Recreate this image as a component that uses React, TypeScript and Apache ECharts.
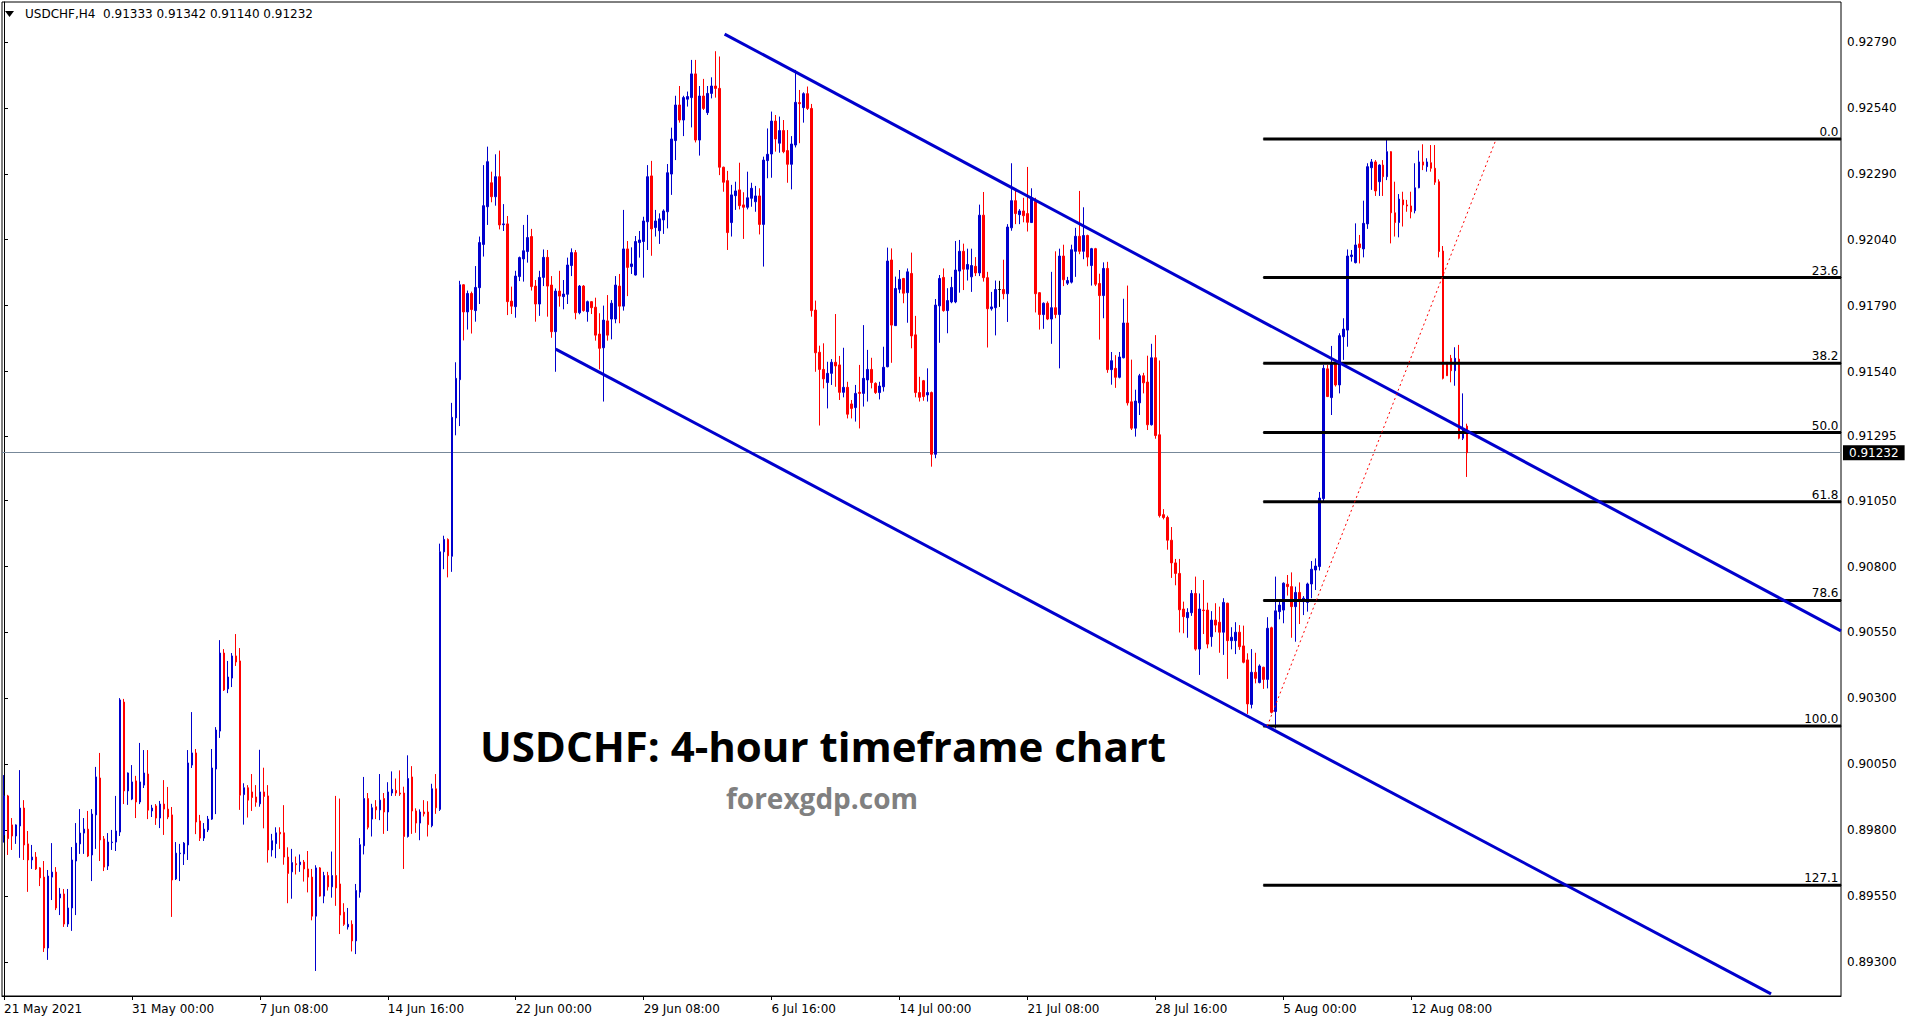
import React, { useEffect, useRef } from "react";
import * as echarts from "echarts";

// ---------- DATA ----------
const symbolTitle = "USDCHF,H4";
const lastBar = { open: 0.91333, high: 0.91342, low: 0.9114, close: 0.91232 };

// rows: [open, close, low, high]  (H4 bars)
const fromMay21 = [
  [0.89782, 0.8993, 0.89753, 0.90009], [0.8993, 0.89768, 0.89706, 0.89934], [0.8982, 0.89778, 0.89725, 0.89846], [0.89778, 0.8982, 0.89748, 0.89822],
  [0.89816, 0.89884, 0.89695, 0.90028], [0.89884, 0.89744, 0.89687, 0.89914], [0.89748, 0.89687, 0.89566, 0.89797], [0.89687, 0.89698, 0.89653, 0.89744],
  [0.89698, 0.89653, 0.89649, 0.89717], [0.89657, 0.89619, 0.89588, 0.8966], [0.89622, 0.89353, 0.89338, 0.89683], [0.89353, 0.89626, 0.89308, 0.89649],
  [0.89622, 0.89641, 0.89535, 0.89751], [0.89641, 0.89505, 0.89497, 0.8966], [0.89543, 0.89558, 0.89478, 0.89581], [0.89558, 0.89444, 0.89433, 0.89577],
  [0.89444, 0.89505, 0.89433, 0.89577], [0.89505, 0.89687, 0.89418, 0.89736], [0.89683, 0.89751, 0.89478, 0.89827], [0.89748, 0.89789, 0.8971, 0.8988],
  [0.89789, 0.89804, 0.8971, 0.89846], [0.89804, 0.89702, 0.89698, 0.89873], [0.89706, 0.89861, 0.89607, 0.8988], [0.89858, 0.90002, 0.89729, 0.9004],
  [0.89998, 0.89763, 0.89683, 0.90093], [0.89767, 0.8966, 0.89645, 0.89778], [0.89664, 0.89755, 0.89649, 0.89789], [0.89753, 0.89755, 0.89725, 0.89801],
  [0.89755, 0.89797, 0.89721, 0.8993], [0.89793, 0.90294, 0.89778, 0.90301], [0.90286, 0.89949, 0.89899, 0.90298], [0.89949, 0.90017, 0.89896, 0.90019],
];
const fromMay31 = [
  [0.89918, 0.89983, 0.89914, 0.90047], [0.89987, 0.89907, 0.89846, 0.90006], [0.89907, 0.89983, 0.89899, 0.90131], [0.89971, 0.90017, 0.8996, 0.90104],
  [0.90013, 0.89876, 0.89842, 0.90104], [0.89873, 0.89884, 0.8985, 0.89896], [0.89892, 0.89846, 0.8982, 0.89899], [0.89846, 0.89899, 0.89808, 0.89911],
  [0.89899, 0.8988, 0.89782, 0.8999], [0.8988, 0.8985, 0.89842, 0.89964], [0.89858, 0.89611, 0.89471, 0.89888], [0.89615, 0.89713, 0.89611, 0.89755],
  [0.89711, 0.89713, 0.89607, 0.89748], [0.8971, 0.89751, 0.89668, 0.89755], [0.89744, 0.90055, 0.89687, 0.90104], [0.90047, 0.90093, 0.90036, 0.90248],
  [0.90093, 0.89831, 0.89785, 0.90108], [0.89835, 0.8977, 0.89759, 0.89858], [0.8977, 0.89804, 0.89759, 0.89827], [0.89801, 0.89842, 0.89793, 0.89854],
  [0.89842, 0.90036, 0.89839, 0.90108], [0.90032, 0.9018, 0.89861, 0.90191], [0.90176, 0.90472, 0.9015, 0.90521], [0.90472, 0.90332, 0.90328, 0.90487],
  [0.90336, 0.90381, 0.9032, 0.90442], [0.90377, 0.90461, 0.90343, 0.90472], [0.90461, 0.90438, 0.90423, 0.90544], [0.90442, 0.89933, 0.89877, 0.90491],
  [0.89935, 0.89961, 0.89821, 0.89978], [0.89961, 0.89914, 0.89848, 0.89971], [0.89945, 0.89924, 0.89873, 0.90013], [0.89926, 0.89906, 0.89889, 0.89971],
];
const fromJun07 = [
  [0.899, 0.89945, 0.89889, 0.90105], [0.89945, 0.89928, 0.89807, 0.90037], [0.8993, 0.89725, 0.89677, 0.89971], [0.89725, 0.8976, 0.897, 0.89786],
  [0.89749, 0.8979, 0.89694, 0.89811], [0.89792, 0.89786, 0.89729, 0.89811], [0.8979, 0.89698, 0.89669, 0.89895], [0.89698, 0.89636, 0.89523, 0.89735],
  [0.89642, 0.89677, 0.8954, 0.89729], [0.89673, 0.89669, 0.89632, 0.897], [0.89669, 0.89679, 0.89642, 0.89708], [0.89679, 0.89653, 0.89605, 0.89687],
  [0.89653, 0.89622, 0.89564, 0.89721], [0.89622, 0.89474, 0.89458, 0.89653], [0.89474, 0.89657, 0.89266, 0.89667], [0.89657, 0.8955, 0.89548, 0.8966],
  [0.8955, 0.89628, 0.89523, 0.89642], [0.89628, 0.89585, 0.89571, 0.89642], [0.89585, 0.89628, 0.89544, 0.89719], [0.89628, 0.89581, 0.89513, 0.8993],
  [0.89596, 0.89478, 0.89406, 0.8992], [0.89489, 0.89443, 0.89437, 0.89523], [0.89433, 0.89443, 0.89423, 0.89505], [0.89443, 0.8938, 0.8934, 0.89458],
  [0.8938, 0.89571, 0.8933, 0.89596], [0.89565, 0.89745, 0.89544, 0.8977], [0.89741, 0.8992, 0.89708, 0.90002], [0.8992, 0.89811, 0.89803, 0.89941],
  [0.89842, 0.89885, 0.89776, 0.899], [0.89889, 0.89877, 0.89842, 0.89914], [0.89877, 0.89914, 0.89838, 0.90013], [0.8992, 0.89869, 0.89786, 0.89941],
];
const fromJun14 = [
  [0.89869, 0.89945, 0.89797, 0.89982], [0.89941, 0.89955, 0.8993, 0.90023], [0.89951, 0.89941, 0.8993, 0.89996], [0.89941, 0.89937, 0.8993, 0.90027],
  [0.89941, 0.89776, 0.89653, 0.89965], [0.89776, 0.89996, 0.89772, 0.90084], [0.90002, 0.89873, 0.89786, 0.90043], [0.89873, 0.89827, 0.8979, 0.89883],
  [0.89827, 0.89869, 0.89762, 0.89879], [0.89869, 0.89862, 0.89852, 0.89914], [0.89869, 0.89821, 0.89776, 0.8991], [0.89817, 0.89957, 0.89811, 0.89976],
  [0.89957, 0.89885, 0.89862, 0.90013], [0.89879, 0.90856, 0.89873, 0.90887], [0.90856, 0.90903, 0.9079, 0.90917], [0.90903, 0.90841, 0.90759, 0.90907],
  [0.90839, 0.91366, 0.9078, 0.91421], [0.91364, 0.91514, 0.91298, 0.91575], [0.91509, 0.91869, 0.91333, 0.91884], [0.91869, 0.91766, 0.91658, 0.91871],
  [0.91766, 0.91836, 0.91699, 0.91847], [0.91836, 0.91775, 0.91684, 0.91843], [0.91771, 0.91859, 0.91729, 0.9194], [0.91858, 0.92029, 0.91796, 0.92052],
  [0.92022, 0.92169, 0.91976, 0.92323], [0.92165, 0.92336, 0.92096, 0.92393], [0.92256, 0.92203, 0.92182, 0.92298], [0.92203, 0.92279, 0.92169, 0.92364],
  [0.92279, 0.92096, 0.92079, 0.92378], [0.92097, 0.921, 0.92073, 0.92175], [0.921, 0.91805, 0.91754, 0.9213], [0.91807, 0.91788, 0.91758, 0.91862],
];
const fromJun22 = [
  [0.91786, 0.91902, 0.91744, 0.91922], [0.919, 0.91972, 0.91883, 0.91976], [0.91967, 0.91998, 0.91881, 0.92096], [0.91995, 0.92048, 0.91953, 0.92134],
  [0.92052, 0.91862, 0.91847, 0.92081], [0.91864, 0.91796, 0.91729, 0.91887], [0.91796, 0.91897, 0.91751, 0.91922], [0.91897, 0.91973, 0.91864, 0.92003],
  [0.91973, 0.91864, 0.91748, 0.92001], [0.91868, 0.91691, 0.91668, 0.91902], [0.91691, 0.91845, 0.91539, 0.91855], [0.91845, 0.91826, 0.91786, 0.91922],
  [0.91824, 0.91834, 0.91776, 0.91887], [0.91833, 0.91944, 0.91796, 0.91972], [0.91942, 0.91991, 0.91902, 0.92007], [0.91991, 0.91763, 0.91738, 0.92001],
  [0.91763, 0.91864, 0.91757, 0.91868], [0.91864, 0.91771, 0.91767, 0.91868], [0.91767, 0.91805, 0.91729, 0.91809], [0.91805, 0.91782, 0.91758, 0.91807],
  [0.91784, 0.91678, 0.91657, 0.9182], [0.91682, 0.91628, 0.91548, 0.91761], [0.9163, 0.91735, 0.91426, 0.9179], [0.91732, 0.91678, 0.91657, 0.9183],
  [0.91739, 0.91799, 0.91662, 0.91811], [0.91739, 0.91868, 0.91723, 0.91902], [0.91864, 0.91788, 0.91723, 0.9191], [0.91788, 0.92005, 0.91771, 0.92153],
  [0.92005, 0.91935, 0.91826, 0.92035], [0.91938, 0.91948, 0.9191, 0.92011], [0.91906, 0.92033, 0.91904, 0.92054], [0.92029, 0.92039, 0.91972, 0.92073],
];
const fromJun29 = [
  [0.92033, 0.92111, 0.91896, 0.92127], [0.92108, 0.92279, 0.92001, 0.92323], [0.92282, 0.92081, 0.91979, 0.92339], [0.92086, 0.92111, 0.92052, 0.92153],
  [0.92074, 0.92119, 0.92024, 0.9214], [0.92115, 0.92149, 0.92062, 0.92155], [0.92146, 0.92294, 0.92083, 0.92327], [0.92289, 0.92422, 0.9221, 0.92465],
  [0.92416, 0.92551, 0.92342, 0.92586], [0.92551, 0.92494, 0.92484, 0.92623], [0.92494, 0.92579, 0.92433, 0.92586], [0.92573, 0.92583, 0.92545, 0.92602],
  [0.92579, 0.92669, 0.92466, 0.92722], [0.92669, 0.92418, 0.92409, 0.92722], [0.92418, 0.92585, 0.92359, 0.92623], [0.92585, 0.92538, 0.92532, 0.9265],
  [0.92522, 0.92595, 0.92513, 0.92623], [0.92595, 0.92623, 0.92576, 0.92656], [0.92623, 0.92614, 0.92579, 0.92755], [0.92614, 0.92315, 0.92285, 0.92735],
  [0.92315, 0.92258, 0.92222, 0.92317], [0.92264, 0.92067, 0.92001, 0.92301], [0.92105, 0.9221, 0.92052, 0.92248], [0.92207, 0.92225, 0.92153, 0.9226],
  [0.92229, 0.92169, 0.92155, 0.92332], [0.92172, 0.92163, 0.92043, 0.9222], [0.92163, 0.92199, 0.92155, 0.92298], [0.92197, 0.92235, 0.92165, 0.92256],
  [0.92184, 0.92206, 0.92146, 0.92244], [0.92206, 0.92098, 0.9206, 0.92235], [0.92098, 0.92342, 0.91938, 0.92355], [0.9234, 0.92364, 0.92273, 0.92462],
];
const fromJul06 = [
  [0.92365, 0.9249, 0.92275, 0.92526], [0.9249, 0.92422, 0.92374, 0.92513], [0.92406, 0.92454, 0.9237, 0.92507], [0.92454, 0.92374, 0.92368, 0.92494],
  [0.92378, 0.92326, 0.92256, 0.92456], [0.92326, 0.92403, 0.92231, 0.92433], [0.92399, 0.92561, 0.9239, 0.92684], [0.9256, 0.92556, 0.92406, 0.92608],
  [0.92541, 0.92594, 0.92484, 0.92599], [0.92594, 0.92538, 0.92532, 0.92621], [0.92538, 0.91771, 0.91748, 0.92555], [0.91773, 0.91611, 0.91539, 0.91809],
  [0.91613, 0.91548, 0.91335, 0.91638], [0.91548, 0.91512, 0.91476, 0.91647], [0.91498, 0.91533, 0.914, 0.91577], [0.91533, 0.91575, 0.91489, 0.91587],
  [0.91575, 0.91561, 0.91482, 0.91758], [0.91565, 0.91461, 0.91432, 0.91599], [0.91461, 0.9148, 0.91442, 0.9163], [0.9148, 0.91378, 0.91362, 0.91501],
  [0.91417, 0.914, 0.91362, 0.91432], [0.91403, 0.91457, 0.9135, 0.91489], [0.91461, 0.91457, 0.91324, 0.91565], [0.91457, 0.91514, 0.91407, 0.91716],
  [0.91508, 0.91548, 0.91426, 0.91622], [0.91548, 0.91498, 0.91476, 0.91592], [0.91495, 0.9146, 0.91455, 0.91499], [0.9146, 0.91485, 0.91434, 0.91501],
  [0.91482, 0.91556, 0.91464, 0.91634], [0.91558, 0.91959, 0.91556, 0.9201], [0.91963, 0.91716, 0.91573, 0.92007], [0.91714, 0.91855, 0.91713, 0.919],
];
const fromJul14 = [
  [0.91852, 0.9189, 0.91837, 0.91925], [0.91893, 0.91837, 0.91799, 0.91895], [0.91839, 0.91918, 0.91725, 0.91931], [0.91912, 0.91675, 0.91628, 0.91991],
  [0.91679, 0.9146, 0.91442, 0.91751], [0.9146, 0.91442, 0.91426, 0.9152], [0.91505, 0.91445, 0.91429, 0.91508], [0.91451, 0.9146, 0.91426, 0.91552],
  [0.9146, 0.91226, 0.91179, 0.91464], [0.91226, 0.91792, 0.91211, 0.91815], [0.91789, 0.91893, 0.91649, 0.91906], [0.91897, 0.91771, 0.91767, 0.91931],
  [0.91771, 0.91809, 0.91685, 0.91856], [0.91804, 0.91859, 0.91799, 0.91899], [0.91804, 0.91925, 0.91799, 0.92035], [0.91921, 0.91996, 0.91839, 0.92039],
  [0.91996, 0.91928, 0.91849, 0.92025], [0.91928, 0.91946, 0.91885, 0.92006], [0.91899, 0.91942, 0.91842, 0.92006], [0.91939, 0.91914, 0.91902, 0.91974],
  [0.91914, 0.92133, 0.91902, 0.92173], [0.92133, 0.91896, 0.91881, 0.92221], [0.91896, 0.91778, 0.91631, 0.91918], [0.91778, 0.91785, 0.91771, 0.91842],
  [0.91782, 0.91851, 0.91677, 0.91885], [0.91851, 0.91851, 0.91785, 0.91884], [0.91851, 0.91835, 0.91814, 0.91964], [0.91835, 0.92088, 0.91728, 0.92099],
  [0.92085, 0.92188, 0.92074, 0.9233], [0.92188, 0.92139, 0.92099, 0.92228], [0.92135, 0.92149, 0.92099, 0.92156], [0.92149, 0.92131, 0.92106, 0.92199],
];
const fromJul21 = [
  [0.92139, 0.92106, 0.92071, 0.92316], [0.92105, 0.92199, 0.92105, 0.92235], [0.92185, 0.91835, 0.91764, 0.92199], [0.91839, 0.91756, 0.91699, 0.91841],
  [0.91756, 0.91799, 0.91702, 0.91802], [0.91799, 0.91739, 0.91735, 0.91806], [0.91739, 0.91782, 0.91645, 0.91918], [0.91782, 0.91756, 0.91742, 0.91996],
  [0.91756, 0.91978, 0.91552, 0.92006], [0.91978, 0.91888, 0.91864, 0.92021], [0.91875, 0.91885, 0.91868, 0.91899], [0.91879, 0.92002, 0.91874, 0.92021],
  [0.91996, 0.92053, 0.91899, 0.92085], [0.92053, 0.91996, 0.91985, 0.92225], [0.91996, 0.92056, 0.91966, 0.92163], [0.92056, 0.91974, 0.91939, 0.92059],
  [0.91942, 0.92006, 0.91866, 0.92009], [0.92006, 0.91871, 0.91864, 0.92009], [0.91874, 0.91828, 0.91661, 0.91911], [0.91828, 0.91931, 0.91742, 0.91954],
  [0.91931, 0.91547, 0.91535, 0.91956], [0.91547, 0.91581, 0.9149, 0.91614], [0.91552, 0.91518, 0.91478, 0.91602], [0.91518, 0.91595, 0.91514, 0.91614],
  [0.91592, 0.91724, 0.9159, 0.91816], [0.91724, 0.91421, 0.91411, 0.91866], [0.91425, 0.91325, 0.91318, 0.91585], [0.91325, 0.91428, 0.91293, 0.91471],
  [0.91421, 0.91524, 0.91375, 0.91531], [0.91524, 0.91497, 0.91457, 0.91535], [0.915, 0.91338, 0.91318, 0.916], [0.91338, 0.91592, 0.91335, 0.91645],
];
const fromJul28 = [
  [0.91592, 0.91297, 0.91285, 0.91678], [0.913, 0.90993, 0.90986, 0.91582], [0.90997, 0.90986, 0.90979, 0.91018], [0.90986, 0.909, 0.90864, 0.90993],
  [0.909, 0.90814, 0.90757, 0.9095], [0.90814, 0.90774, 0.90729, 0.90829], [0.90774, 0.90636, 0.9055, 0.90829], [0.90639, 0.9061, 0.90547, 0.90667],
  [0.90606, 0.90626, 0.9053, 0.90642], [0.90625, 0.90698, 0.90613, 0.90711], [0.90698, 0.90487, 0.90481, 0.90762], [0.90487, 0.90639, 0.90389, 0.90698],
  [0.90635, 0.90633, 0.90544, 0.90749], [0.90635, 0.90506, 0.9049, 0.90663], [0.90534, 0.90597, 0.90496, 0.90631], [0.90597, 0.90578, 0.90551, 0.90661],
  [0.90589, 0.90551, 0.90473, 0.90648], [0.90551, 0.90664, 0.90465, 0.9068], [0.90661, 0.90519, 0.90374, 0.90663], [0.90519, 0.90532, 0.90486, 0.9057],
  [0.90519, 0.90551, 0.90468, 0.90589], [0.90551, 0.90496, 0.90484, 0.90578], [0.90499, 0.90437, 0.90433, 0.90576], [0.90446, 0.90279, 0.90241, 0.90471],
  [0.90277, 0.90399, 0.90262, 0.90487], [0.90399, 0.90376, 0.90357, 0.90473], [0.9036, 0.90423, 0.90357, 0.90429], [0.90418, 0.90372, 0.90336, 0.9042],
  [0.90372, 0.90566, 0.90338, 0.90608], [0.90568, 0.90247, 0.90243, 0.90572], [0.9025, 0.90632, 0.90186, 0.90762], [0.90629, 0.90654, 0.906, 0.90671],
];
const fromAug05 = [
  [0.90635, 0.90737, 0.90585, 0.9074], [0.90733, 0.90724, 0.9069, 0.90768], [0.90724, 0.90648, 0.9053, 0.90778], [0.90648, 0.90702, 0.90515, 0.90724],
  [0.90702, 0.90671, 0.90582, 0.9074], [0.90667, 0.9068, 0.90616, 0.90688], [0.90664, 0.90734, 0.90629, 0.90739], [0.90734, 0.9079, 0.9068, 0.90821],
  [0.90787, 0.90802, 0.90711, 0.90831], [0.908, 0.9106, 0.90785, 0.91083], [0.91058, 0.91552, 0.91046, 0.91565], [0.9155, 0.91445, 0.91443, 0.91565],
  [0.91441, 0.91571, 0.91375, 0.91637], [0.91571, 0.91489, 0.91483, 0.91573], [0.91489, 0.91676, 0.91457, 0.91685], [0.91672, 0.91701, 0.91584, 0.91742],
  [0.91697, 0.91978, 0.91634, 0.92003], [0.91976, 0.91982, 0.91957, 0.92001], [0.91953, 0.9202, 0.9195, 0.92102], [0.92024, 0.9201, 0.9195, 0.92058],
  [0.92005, 0.92102, 0.91973, 0.92188], [0.921, 0.92317, 0.92081, 0.9233], [0.92313, 0.92335, 0.92229, 0.92346], [0.92335, 0.92225, 0.92206, 0.92342],
  [0.9226, 0.92323, 0.92206, 0.92326], [0.92323, 0.92279, 0.92206, 0.92342], [0.92279, 0.92374, 0.92266, 0.92418], [0.92374, 0.92142, 0.92026, 0.92376],
  [0.92142, 0.92105, 0.92052, 0.9226], [0.92105, 0.92194, 0.92049, 0.92213], [0.92191, 0.92172, 0.9209, 0.92222], [0.92172, 0.92168, 0.92146, 0.92191],
];
const fromAug12 = [
  [0.92168, 0.92146, 0.92121, 0.92222], [0.9215, 0.92237, 0.9214, 0.9233], [0.92237, 0.92335, 0.92235, 0.92378], [0.92335, 0.92323, 0.92304, 0.92402],
  [0.92317, 0.92335, 0.92298, 0.92349], [0.92332, 0.92311, 0.92298, 0.92399], [0.92311, 0.92258, 0.92248, 0.92399], [0.9226, 0.91995, 0.91973, 0.92269],
  [0.91997, 0.91514, 0.9151, 0.92016], [0.91575, 0.91524, 0.91523, 0.91576], [0.9159, 0.91543, 0.91499, 0.91603], [0.91543, 0.9159, 0.91486, 0.91632],
  [0.91587, 0.91287, 0.91283, 0.91641], [0.91287, 0.91322, 0.9128, 0.91457],
  [lastBar.open, lastBar.close, lastBar.low, lastBar.high],
];

const xTickIndex = [0, 32, 64, 96, 128, 160, 192, 224, 256, 288, 320, 352];
const xTickText = [
  "21 May 2021", "31 May 00:00", "7 Jun 08:00", "14 Jun 16:00", "22 Jun 00:00", "29 Jun 08:00",
  "6 Jul 16:00", "14 Jul 00:00", "21 Jul 08:00", "28 Jul 16:00", "5 Aug 00:00", "12 Aug 08:00",
];
const slotCount = 460;

const yTicks = [0.893, 0.8955, 0.898, 0.9005, 0.903, 0.9055, 0.908, 0.9105, 0.91295, 0.9154, 0.9179, 0.9204, 0.9229, 0.9254, 0.9279];
const yMin = 0.89171;
const yMax = 0.929417;

const upperTrend = [[180.25, 0.9282], [459.5, 0.90556]];
const lowerTrend = [[138, 0.91625], [442, 0.89179]];
const fibHigh = 0.92422;
const fibLow = 0.90195;
const fibRatios = [0, 23.6, 38.2, 50, 61.8, 78.6, 100, 127.1];
const fibStartIndex = 315;
const fibTrend = [[316, fibLow], [373.25, fibHigh]];
const currentPrice = 0.91232;

const titleText = "USDCHF: 4-hour timeframe chart";
const siteText = "forexgdp.com";

// ---------- CHART ----------
const FONT = "DejaVu Sans";

export default function App() {
  const ref = useRef<HTMLDivElement>(null);

  useEffect(() => {
    if (!ref.current) return;
    const chart = echarts.init(ref.current, undefined, { renderer: "svg" });

    const candles = [
      ...fromMay21, ...fromMay31, ...fromJun07, ...fromJun14, ...fromJun22, ...fromJun29,
      ...fromJul06, ...fromJul14, ...fromJul21, ...fromJul28, ...fromAug05, ...fromAug12,
    ];
    const categories = Array.from({ length: slotCount }, (_, i) => {
      const k = xTickIndex.indexOf(i);
      return k >= 0 ? xTickText[k] : "";
    });
    const isTick = (i: number) => xTickIndex.indexOf(i) >= 0;

    const fibSeries = fibRatios.map((r) => {
      const p = fibHigh - (r / 100) * (fibHigh - fibLow);
      return {
        type: "line",
        xAxisIndex: 1,
        yAxisIndex: 0,
        silent: true,
        clip: false,
        symbol: "circle",
        symbolSize: 1,
        showSymbol: true,
        itemStyle: { color: "#000" },
        lineStyle: { color: "#000", width: 3 },
        z: 4,
        data: [
          [fibStartIndex, p],
          {
            value: [slotCount - 0.5, p],
            label: {
              show: true,
              position: "left",
              distance: 2,
              offset: [0, -7],
              formatter: r.toFixed(1),
              color: "#000",
              fontFamily: FONT,
              fontSize: 12,
            },
          },
        ],
      };
    });

    chart.setOption({
      animation: false,
      backgroundColor: "#fff",
      grid: {
        left: 2,
        top: 2,
        width: 1839,
        height: 994,
        show: true,
        borderColor: "#000",
        borderWidth: 1,
        backgroundColor: "#fff",
      },
      xAxis: [
        {
          type: "category",
          data: categories,
          boundaryGap: true,
          axisLine: { lineStyle: { color: "#000", width: 1 } },
          axisTick: { show: true, alignWithLabel: true, interval: isTick, length: 4, lineStyle: { color: "#000" } },
          axisLabel: {
            interval: isTick,
            align: "left",
            color: "#000",
            fontFamily: FONT,
            fontSize: 12,
            margin: 7,
          },
          splitLine: { show: false },
        },
        { type: "value", min: -0.5, max: slotCount - 0.5, show: false },
      ],
      yAxis: {
        type: "value",
        position: "right",
        min: yMin,
        max: yMax,
        scale: true,
        axisLine: { show: true, lineStyle: { color: "#000", width: 1 } },
        axisTick: { show: true, length: 4, customValues: yTicks, lineStyle: { color: "#000" } },
        axisLabel: {
          customValues: yTicks,
          formatter: (v: number) => v.toFixed(5),
          color: "#000",
          fontFamily: FONT,
          fontSize: 12,
          margin: 6,
        },
        splitLine: { show: false },
      },
      series: [
        {
          type: "candlestick",
          xAxisIndex: 0,
          yAxisIndex: 0,
          data: candles,
          barWidth: 2,
          silent: true,
          itemStyle: {
            color: "#0000CD",
            color0: "#FF0000",
            borderColor: "#0000CD",
            borderColor0: "#FF0000",
            borderColorDoji: "#000000",
            borderWidth: 1,
          },
          markLine: {
            silent: true,
            precision: 5,
            symbol: ["none", "none"],
            data: [{ yAxis: currentPrice }],
            lineStyle: { color: "#778899", width: 1, type: "solid" },
            label: {
              show: true,
              position: "end",
              distance: 2,
              formatter: currentPrice.toFixed(5),
              backgroundColor: "#000",
              color: "#fff",
              padding: [2, 6, 1, 6],
              fontFamily: FONT,
              fontSize: 12,
            },
            z: 1,
          },
        },
        {
          type: "line",
          xAxisIndex: 1,
          yAxisIndex: 0,
          silent: true,
          symbol: "none",
          lineStyle: { color: "#0000CD", width: 3 },
          z: 5,
          data: upperTrend,
        },
        {
          type: "line",
          xAxisIndex: 1,
          yAxisIndex: 0,
          silent: true,
          symbol: "none",
          lineStyle: { color: "#0000CD", width: 3 },
          z: 5,
          data: lowerTrend,
        },
        ...fibSeries,
        {
          type: "line",
          xAxisIndex: 1,
          yAxisIndex: 0,
          silent: true,
          symbol: "none",
          lineStyle: { color: "#FF0000", width: 1, type: [2, 3] },
          z: 5,
          data: fibTrend,
        },
      ],
      graphic: [
        {
          type: "polygon",
          shape: { points: [[5, 11], [14, 11], [9.5, 17]] },
          style: { fill: "#000" },
        },
        {
          type: "text",
          x: 25,
          y: 14,
          style: {
            text: `${symbolTitle}  ${lastBar.open.toFixed(5)} ${lastBar.high.toFixed(5)} ${lastBar.low.toFixed(5)} ${lastBar.close.toFixed(5)}`,
            fill: "#000",
            fontFamily: FONT,
            fontSize: 12,
            align: "left",
            verticalAlign: "middle",
          },
        },
        {
          type: "text",
          x: 823,
          y: 745,
          z: 10,
          style: {
            text: titleText,
            fill: "#000",
            fontFamily: "Open Sans",
            fontWeight: "bold",
            fontSize: 42,
            align: "center",
            verticalAlign: "middle",
          },
        },
        {
          type: "text",
          x: 822,
          y: 798,
          z: 10,
          style: {
            text: siteText,
            fill: "#808080",
            fontFamily: "Open Sans",
            fontWeight: "bold",
            fontSize: 28,
            align: "center",
            verticalAlign: "middle",
          },
        },
      ],
    });

    return () => chart.dispose();
  }, []);

  return (
    <div
      ref={ref}
      style={{ position: "fixed", left: 0, top: 0, width: 1913, height: 1023, background: "#fff" }}
    />
  );
}
